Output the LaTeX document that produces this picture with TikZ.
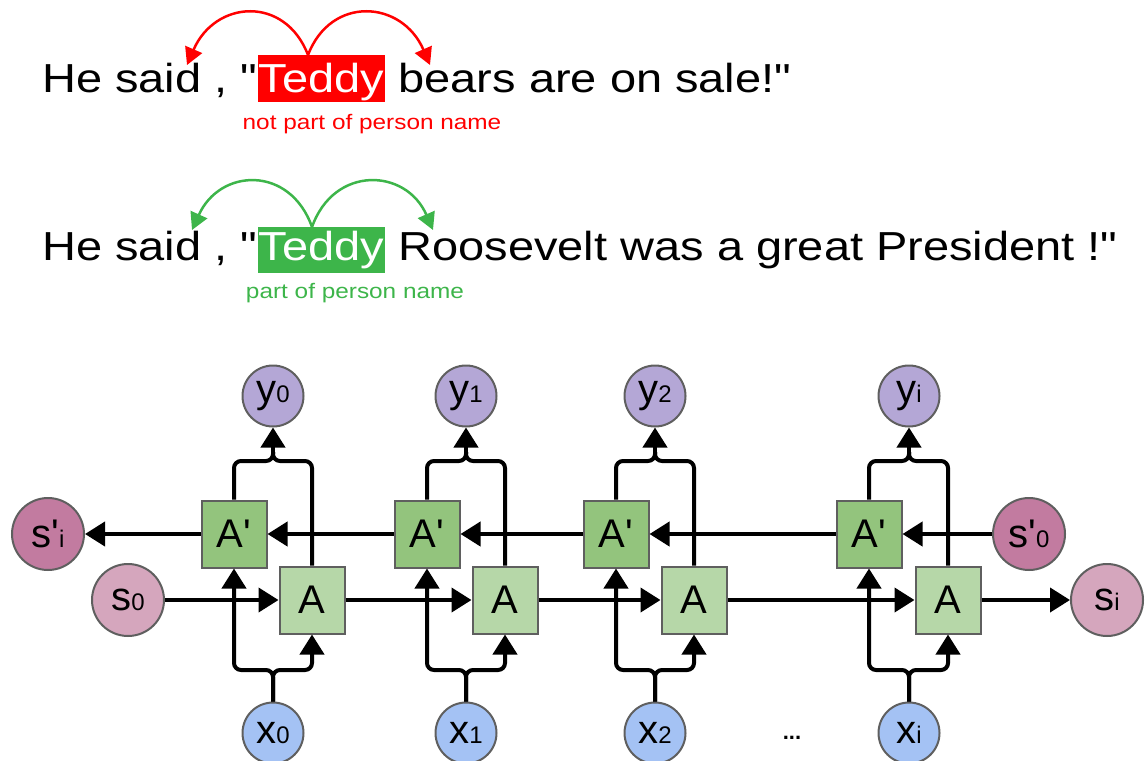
\documentclass[tikz,border=0pt]{standalone}
\usepackage{fontspec}
\setmainfont{Liberation Sans}
\newfontfamily\sentfont[FakeStretch=1.16]{Liberation Sans}
\usetikzlibrary{arrows.meta}

\definecolor{cellprime}{HTML}{93C47D}
\definecolor{cellplain}{HTML}{B6D7A8}
\definecolor{outnode}{HTML}{B4A7D6}
\definecolor{innode}{HTML}{A4C2F4}
\definecolor{backstate}{HTML}{C27BA0}
\definecolor{fwdstate}{HTML}{D5A6BD}
\definecolor{rimgray}{HTML}{5F5F5F}
\definecolor{namegreen}{HTML}{3DB54A}
\definecolor{nogored}{HTML}{FF0000}

\newcommand\sublab[1]{{\fontsize{24}{24}\selectfont #1}}

\begin{document}
\begin{tikzpicture}[x=1pt,y=-1pt,
  sent/.style={font=\sentfont\fontsize{40.5}{48}\selectfont, inner sep=0pt, anchor=base west},
  tag/.style={sent, text=white, inner xsep=1pt, inner ysep=0pt},
  note/.style={font=\sentfont\fontsize{21}{24}\selectfont, inner sep=0pt, anchor=base},
  hop/.style={line width=2.5pt, -{Triangle[length=17pt,width=18pt]}},
  cell/.style={draw=rimgray, line width=2pt, minimum width=65pt, minimum height=67pt,
               inner sep=0pt, font=\fontsize{40}{40}\selectfont},
  cellAp/.style={cell, fill=cellprime},
  cellA/.style={cell, fill=cellplain},
  ball/.style={circle, draw=rimgray, line width=2pt, inner sep=0pt,
               font=\fontsize{40}{40}\selectfont},
  ynode/.style={ball, fill=outnode, minimum size=61pt},
  xnode/.style={ball, fill=innode, minimum size=61pt},
  spnode/.style={ball, fill=backstate, minimum size=72pt},
  snode/.style={ball, fill=fwdstate, minimum size=72pt},
  wire/.style={line width=4pt, black},
  flow/.style={wire, -{Triangle[length=20pt,width=24pt]}}
]
\useasboundingbox (0,0) rectangle (1147,760);

% ---- sentence 1: "Teddy" is not a person name ----
\node[sent] (pre1) at (42,92) {He said , "};
\node[tag, fill=nogored, text height=37pt, text depth=10pt] (teddy1) at (pre1.base east) {Teddy};
\node[sent] (post1) at (teddy1.base east) {\ bears are on sale!"};
\node[note, text=nogored] (note1) at (372,129) {not part of person name};
\coordinate (src1) at (308,55);
\coordinate (left1) at (187,65);
\coordinate (right1) at (430,65);
\draw[hop, nogored] (src1) .. controls (285,-5) and (215,0) .. (left1);
\draw[hop, nogored] (src1) .. controls (331,-5) and (402,0) .. (right1);

% ---- sentence 2: "Teddy" is part of a person name ----
\node[sent] (pre2) at (42,260) {He said , "};
\node[tag, fill=namegreen, text height=33pt, text depth=13pt] (teddy2) at (pre2.base east) {Teddy};
\node[sent] (post2) at (teddy2.base east) {\ Roosevelt was a great President !"};
\node[note, text=namegreen] (note2) at (355,298) {part of person name};
\coordinate (src2) at (312,227);
\coordinate (left2) at (192,230);
\coordinate (right2) at (433,230);
\draw[hop, namegreen] (src2) .. controls (290,165) and (220,168) .. (left2);
\draw[hop, namegreen] (src2) .. controls (334,165) and (406,168) .. (right2);

% ---- bidirectional RNN ----
\foreach \i/\ax/\bx/\mx/\lab in {0/234/312/273/0, 1/427/505/466/1, 2/616/694/655/2, 3/869/948/909/i}{
  \node[cellAp] (Ap\i) at (\ax,534) {A\textquotesingle};
  \node[cellA] (A\i) at (\bx,600) {A};
  \node[ynode] (y\i) at (\mx,396) {y\sublab{\lab}};
  \node[xnode] (x\i) at (\mx,733) {x\sublab{\lab}};
  \coordinate (top\i) at (\mx,461);
  \coordinate (up\i) at (\mx,452);
  \coordinate (bot\i) at (\mx,670);
  % both cells feed the output
  \draw[wire, rounded corners=7pt] (Ap\i.north) |- (top\i) -- (up\i);
  \draw[wire, rounded corners=7pt] (A\i.north) |- (top\i) -- (up\i);
  \draw[flow] (up\i) -- (y\i.south);
  % the input feeds both cells
  \draw[flow, rounded corners=7pt] (x\i.north) -- (bot\i) -| (Ap\i.south);
  \draw[flow, rounded corners=7pt] (x\i.north) -- (bot\i) -| (A\i.south);
}

\node[spnode] (spi) at (48,534) {s\textquotesingle\sublab{i}};
\node[snode] (s0) at (128,600) {s\sublab{0}};
\node[spnode] (sp0) at (1029,534) {s\textquotesingle\sublab{0}};
\node[snode] (si) at (1107,600) {s\sublab{i}};
\node[font=\bfseries\fontsize{22}{22}\selectfont, inner sep=0pt] (dots) at (792,738) {...};

% forward chain
\draw[flow] (s0) -- (A0);
\draw[flow] (A0) -- (A1);
\draw[flow] (A1) -- (A2);
\draw[flow] (A2) -- (A3);
\draw[flow] (A3) -- (si);

% backward chain
\draw[flow] (sp0) -- (Ap3);
\draw[flow] (Ap3) -- (Ap2);
\draw[flow] (Ap2) -- (Ap1);
\draw[flow] (Ap1) -- (Ap0);
\draw[flow] (Ap0) -- (spi);
\end{tikzpicture}
\end{document}
